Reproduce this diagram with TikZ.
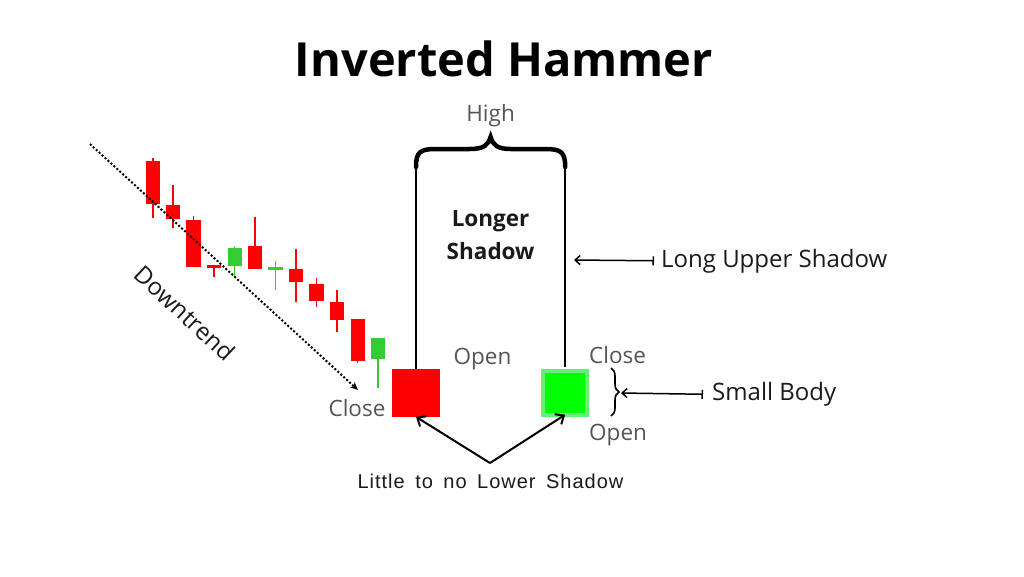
\documentclass[tikz,border=0pt]{standalone}
\usepackage{fontspec}
\setmainfont{Open Sans}
\newfontfamily\libfont[LetterSpace=5,WordSpace=1.6]{Liberation Sans}
\usetikzlibrary{arrows.meta,decorations.pathreplacing}
\definecolor{cred}{HTML}{FF0000}
\definecolor{cgreen}{HTML}{33CC33}
\definecolor{bgreen}{HTML}{00FF00}
\definecolor{lgreen}{HTML}{66EE77}
\definecolor{lbl}{HTML}{555555}
\definecolor{ink}{HTML}{1A1A1A}
\newcommand\mycandle[7]{%
  \draw[wick,#7] (#2,#5) -- (#2,#6);
  \node[cbody,fill=#7,minimum height={#4-#3}] (#1) at (#2,{(#3+#4)/2}) {};}
\tikzset{
  wick/.style={line width=1.5pt},
  cbody/.style={rectangle,inner sep=0pt,minimum width=14.3pt,draw=none},
  lbltext/.style={inner sep=0pt,text=lbl,font=\fontsize{22.5}{27}\selectfont},
  inktext/.style={inner sep=0pt,text=ink,font=\fontsize{24}{29}\selectfont},
  bigwick/.style={line width=1.8pt,black},
  ptr/.style={line width=1.5pt,black},
  lowarr/.style={line width=2pt,black,-{Straight Barb[length=7pt,width=12pt]}}
}
\begin{document}
\begin{tikzpicture}[x=1pt,y=-1pt]
\useasboundingbox[fill=white] (0,0) rectangle (1024,576);
% title
\node[inner sep=0pt,anchor=base,font=\fontsize{47}{56}\bfseries\selectfont] (title) at (504,76) {Inverted Hammer};
% small candles
\mycandle{c1}{152.8}{161}{204}{158}{218}{cred}
\mycandle{c2}{173}{204.7}{219}{185}{227.7}{cred}
\mycandle{c3}{193.5}{220.3}{267.3}{215.7}{267.3}{cred}
\mycandle{c4}{214}{265}{267.5}{266}{277}{cred}
\mycandle{c5}{234.7}{248.3}{266}{246}{277.7}{cgreen}
\mycandle{c6}{255}{245.7}{268.7}{217.3}{268.7}{cred}
\mycandle{c7}{275.5}{267}{269.5}{260.7}{290}{cgreen}
\mycandle{c8}{296.2}{269.3}{281.7}{249}{302.3}{cred}
\mycandle{c9}{316.5}{284.3}{301}{278.3}{307.3}{cred}
\mycandle{c10}{337.2}{301.7}{320}{290.3}{331.7}{cred}
\mycandle{c11}{357.7}{319}{361}{319}{363.3}{cred}
\mycandle{c12}{378.2}{338.3}{359.3}{338.3}{388.3}{cgreen}
% downtrend
\coordinate (dtS) at (90,144);
\coordinate (dtE) at (358,390);
\draw[line width=2pt,dash pattern=on 2pt off 2pt,-{Stealth[length=8pt,width=7pt]}] (dtS) -- (dtE);
\node[inktext,rotate=-43] (down) at (185,313) {Downtrend};
% big candles
\node[rectangle,inner sep=0pt,fill=cred,minimum width=48.6pt,minimum height=47.7pt] (redc) at (416,392.8) {};
\node[rectangle,inner sep=0pt,fill=bgreen,draw=lgreen,line width=4pt,minimum width=44.3pt,minimum height=43.7pt] (grnc) at (565.2,392.8) {};
\coordinate (rtop) at (416,167);
\coordinate (gtop) at (565.2,167);
\draw[bigwick] (rtop) -- (redc.north);
\draw[bigwick] (gtop) -- ([yshift=2pt]grnc.north);
% top brace
\draw[line width=4.5pt,line cap=round] (rtop) .. controls (416,152) and (420,149) .. (436,149) -- (470,149) .. controls (484,149) and (488,145) .. (490.6,137) .. controls (493,145) and (497,149) .. (511,149) -- (545,149) .. controls (561,149) and (565.2,152) .. (gtop);
\node[lbltext,anchor=base] (high) at (490.6,121.7) {High};
\node[inner sep=0pt,align=center,text=ink,font=\fontsize{22.5}{33}\bfseries\selectfont] (longer) at (490.6,235.5) {Longer\\Shadow};
% labels at candles
\node[lbltext,anchor=base] (openL) at (482.5,364) {Open};
\node[lbltext,anchor=base] (closeL) at (357,416) {Close};
\node[lbltext,anchor=base west] (closeR) at (589,363.3) {Close};
\node[lbltext,anchor=base west] (openR) at (589,440) {Open};
% long upper shadow
\node[inktext,anchor=base west] (lus) at (661,267) {Long Upper Shadow};
\coordinate (lusA) at (574,260);
\draw[ptr,{Straight Barb[length=5pt,width=9pt]}-{Bar[width=9pt]}] (lusA) -- ([xshift=-7pt]lus.west);
% small body
\draw[line width=1.6pt,decorate,decoration={brace,amplitude=8pt}] (611,368) -- (611,416);
\coordinate (sbA) at (621,393);
\node[inktext,anchor=base west] (sb) at (712,400.5) {Small Body};
\draw[ptr,{Straight Barb[length=5pt,width=9pt]}-{Bar[width=9pt]}] (sbA) -- ([xshift=-9pt]sb.west);
% lower shadow
\node[inner sep=0pt,anchor=base,text=ink,font=\libfont\fontsize{20}{24}\selectfont] (little) at (490.5,488) {Little to no Lower Shadow};
\coordinate (lp) at (490,463);
\draw[lowarr] (lp) -- (redc.south);
\draw[lowarr] (lp) -- ([yshift=2pt]grnc.south);
\end{tikzpicture}
\end{document}
